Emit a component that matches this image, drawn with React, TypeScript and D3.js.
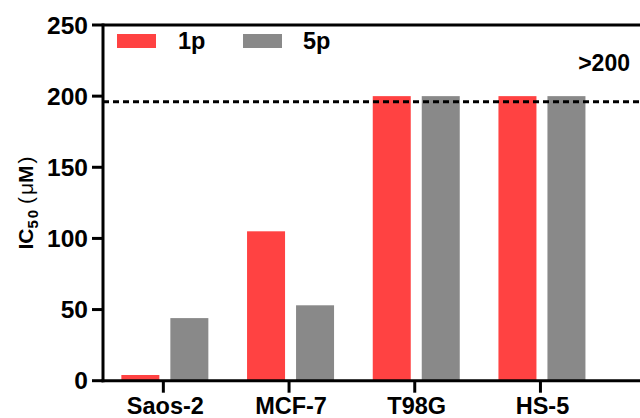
import React from "react";
import * as d3 from "d3";

const categories = ["Saos-2", "MCF-7", "T98G", "HS-5"];
const seriesNames = ["1p", "5p"];
const values1p = [4, 105, 200, 200];
const values5p = [44, 53, 200, 200];
const yTicks = [0, 50, 100, 150, 200, 250];
const thresholdValue = 196;
const thresholdLabel = ">200";
const colors = ["#FF4242", "#898989"];

export default function App() {
  const W = 640, H = 418;
  const axisX = 103;
  const y = d3.scaleLinear().domain([0, 250]).range([380.7, 25]);
  const x = d3.scaleBand<string>().domain(categories).range([100.5, 603.3]).paddingInner(0).paddingOuter(0);
  const sub = d3.scaleBand<string>().domain(seriesNames).range([-42, 45]).paddingInner(11 / 49).paddingOuter(0);
  const seriesValues = [values1p, values5p];
  const font = "'Liberation Sans', Arial, sans-serif";

  return (
    <svg width={W} height={H} style={{ position: "absolute", left: 0, top: 0, background: "#fff" }} fontFamily={font}>
      <rect x={0} y={0} width={W} height={H} fill="#fff" />
      {/* bars */}
      {categories.map((c, i) => {
        const cx = (x(c) as number) + x.bandwidth() / 2;
        return seriesNames.map((s, j) => {
          const v = seriesValues[j][i];
          return (
            <rect
              key={c + s}
              x={cx + (sub(s) as number)}
              y={y(v)}
              width={sub.bandwidth()}
              height={y(0) - y(v)}
              fill={colors[j]}
            />
          );
        });
      })}
      {/* dashed threshold line */}
      <line x1={axisX} x2={W} y1={y(thresholdValue)} y2={y(thresholdValue)} stroke="#000" strokeWidth={3} strokeDasharray="6,4" />
      <text x={630} y={71} textAnchor="end" fontSize={23} fontWeight="bold">{thresholdLabel}</text>
      {/* y axis */}
      <line x1={axisX} x2={axisX} y1={y(250) - 1.5} y2={y(0) + 1.5} stroke="#000" strokeWidth={3} />
      <line x1={axisX} x2={W} y1={y(250)} y2={y(250)} stroke="#000" strokeWidth={3} />
      {yTicks.map((t) => (
        <g key={t}>
          <line x1={axisX - 11} x2={axisX} y1={y(t)} y2={y(t)} stroke="#000" strokeWidth={3} />
          <text x={88} y={y(t) + 8.5} textAnchor="end" fontSize={24.5} fontWeight="bold">{t}</text>
        </g>
      ))}
      {/* x axis */}
      <line x1={axisX - 1.5} x2={W} y1={y(0)} y2={y(0)} stroke="#000" strokeWidth={3} />
      {categories.map((c) => {
        const cx = (x(c) as number) + x.bandwidth() / 2;
        return (
          <g key={c}>
            <line x1={cx} x2={cx} y1={y(0)} y2={y(0) + 12} stroke="#000" strokeWidth={3} />
            <text x={cx + 2} y={414} textAnchor="middle" fontSize={23.5} fontWeight="bold">{c}</text>
          </g>
        );
      })}
      {/* y title */}
      <text transform={`translate(33,203) rotate(-90)`} textAnchor="middle" fontSize={21} fontWeight="bold">
        IC<tspan fontSize={15} dy={5}>5</tspan><tspan fontSize={15} dx={2}>0</tspan>
        <tspan dy={-5} fontWeight="normal"> (</tspan>
        <tspan fontWeight="normal" dx={2}>μ</tspan>
        <tspan>M</tspan>
        <tspan fontWeight="normal" dx={2}>)</tspan>
      </text>
      {/* legend */}
      {seriesNames.map((s, j) => (
        <g key={s}>
          <rect x={117 + j * 126} y={34} width={39} height={14} fill={colors[j]} />
          <text x={178 + j * 125} y={49} fontSize={23.5} fontWeight="bold">{s}</text>
        </g>
      ))}
    </svg>
  );
}
